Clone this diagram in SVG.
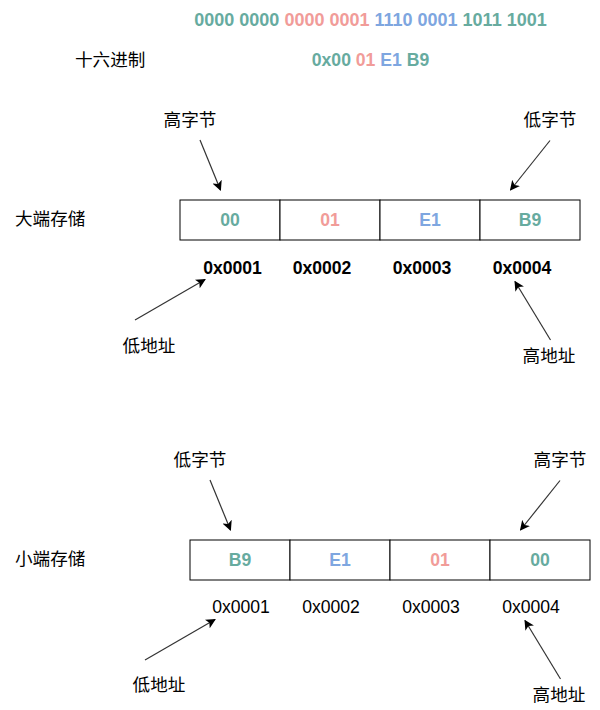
<svg xmlns="http://www.w3.org/2000/svg" width="600" height="710" viewBox="0 0 600 710">
<style>
text{font-family:"Liberation Sans","Noto Sans CJK SC",sans-serif;font-size:17.6px;fill:#000;dominant-baseline:central}
.b{font-weight:bold}
.m{text-anchor:middle}
.g{fill:#67AB9F}
.p{fill:#F19C99}
.u{fill:#7EA6E0}
.cell{fill:#fff;stroke:#000;stroke-width:1}
.arr{stroke:#333;stroke-width:1.2;fill:none;marker-end:url(#ah)}
</style>
<defs>
<marker id="ah" viewBox="0 0 10 10" refX="9" refY="5" markerWidth="10" markerHeight="10" markerUnits="userSpaceOnUse" orient="auto">
<path d="M0,0 L10,5 L0,10 L2.5,5 Z" fill="#000"/>
</marker>
</defs>
<rect width="600" height="710" fill="#fff"/>
<g id="binary"><text class="b m" x="370.5" y="20" style="font-size:18px"><tspan class="g">0000 0000 </tspan><tspan class="p">0000 0001 </tspan><tspan class="u">1110 0001 </tspan><tspan class="g">1011 1001</tspan></text></g>
<g id="hex-label"><text x="75" y="60">十六进制</text></g>
<g id="hex"><text class="b m" x="370.5" y="60"><tspan class="g">0x00 </tspan><tspan class="p">01 </tspan><tspan class="u">E1 </tspan><tspan class="g">B9</tspan></text></g>

<g id="big-label"><text x="15" y="219">大端存储</text></g>
<g id="big-hi"><text class="m" x="190" y="120">高字节</text></g>
<g id="big-lo"><text class="m" x="550" y="120">低字节</text></g>
<g id="big-c1"><rect class="cell" x="180" y="200" width="100" height="40"/><text class="b m g" x="230" y="220">00</text></g>
<g id="big-c2"><rect class="cell" x="280" y="200" width="100" height="40"/><text class="b m p" x="330" y="220">01</text></g>
<g id="big-c3"><rect class="cell" x="380" y="200" width="100" height="40"/><text class="b m u" x="430" y="220">E1</text></g>
<g id="big-c4"><rect class="cell" x="480" y="200" width="100" height="40"/><text class="b m g" x="530" y="220">B9</text></g>
<g id="big-addr">
<text class="b m" x="232.5" y="268">0x0001</text>
<text class="b m" x="322" y="268">0x0002</text>
<text class="b m" x="422" y="268">0x0003</text>
<text class="b m" x="522" y="268">0x0004</text>
</g>
<g id="big-lowaddr"><text class="m" x="149" y="346">低地址</text></g>
<g id="big-highaddr"><text class="m" x="549" y="356">高地址</text></g>

<g id="little-label"><text x="15" y="559">小端存储</text></g>
<g id="little-lo"><text class="m" x="200" y="460">低字节</text></g>
<g id="little-hi"><text class="m" x="560" y="460">高字节</text></g>
<g id="little-c1"><rect class="cell" x="190" y="540" width="100" height="40"/><text class="b m g" x="240" y="560">B9</text></g>
<g id="little-c2"><rect class="cell" x="290" y="540" width="100" height="40"/><text class="b m u" x="340" y="560">E1</text></g>
<g id="little-c3"><rect class="cell" x="390" y="540" width="100" height="40"/><text class="b m p" x="440" y="560">01</text></g>
<g id="little-c4"><rect class="cell" x="490" y="540" width="100" height="40"/><text class="b m g" x="540" y="560">00</text></g>
<g id="little-addr">
<text class="m" x="241" y="607">0x0001</text>
<text class="m" x="331" y="607">0x0002</text>
<text class="m" x="431" y="607">0x0003</text>
<text class="m" x="531" y="607">0x0004</text>
</g>
<g id="little-lowaddr"><text class="m" x="159" y="685">低地址</text></g>
<g id="little-highaddr"><text class="m" x="559" y="695">高地址</text></g>

<g id="connectors">
<line class="arr" x1="200" y1="140" x2="220.5" y2="190"/>
<line class="arr" x1="550" y1="140.5" x2="510.5" y2="190"/>
<line class="arr" x1="135" y1="320" x2="205" y2="279.5"/>
<line class="arr" x1="550.5" y1="340" x2="515" y2="281.5"/>
<line class="arr" x1="210" y1="480" x2="230.5" y2="530"/>
<line class="arr" x1="560" y1="480.5" x2="520.5" y2="530"/>
<line class="arr" x1="145" y1="660" x2="215" y2="619.5"/>
<line class="arr" x1="560.5" y1="679" x2="525" y2="620.5"/>
</g>
</svg>
